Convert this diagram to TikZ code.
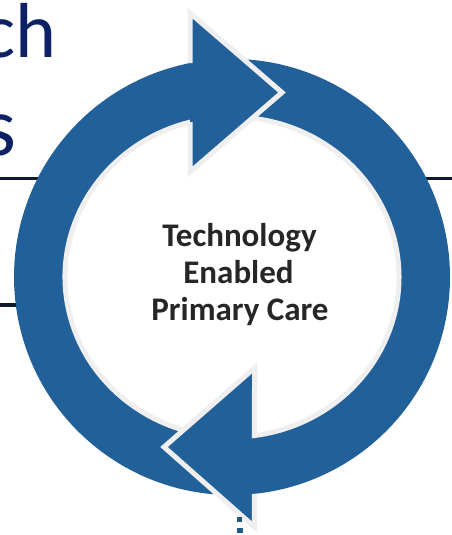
\documentclass[tikz,border=0pt]{standalone}
\usepackage{fontspec}
\setmainfont{Carlito}
\usetikzlibrary{calc}
\definecolor{ringblue}{HTML}{22609A}
\definecolor{rimgray}{HTML}{EFEFEF}
\definecolor{titlenavy}{HTML}{0B2163}
\definecolor{rulecol}{HTML}{0E1A28}
\definecolor{labelgray}{HTML}{262626}
\definecolor{dotteal}{HTML}{1D5A7E}
\begin{document}
\begin{tikzpicture}[x=1pt,y=-1pt,
  rim/.style={draw=rimgray,line width=5pt,line join=miter},
  rulerline/.style={draw=rulecol,line width=3.5pt},
  titletext/.style={text=titlenavy,inner sep=0pt,anchor=base east},
  centrelabel/.style={text=labelgray,inner sep=0pt,anchor=base,
    font=\fontsize{33}{37}\selectfont\bfseries}]
\useasboundingbox[fill=white] (0,0) rectangle (451,535);
\coordinate (C) at (232,277);

% table rules running behind the ring
\coordinate (r1a) at (-2,178.3);
\coordinate (r1b) at (60,178.3);
\coordinate (r2a) at (420,178.3);
\coordinate (r2b) at (453,178.3);
\coordinate (r3a) at (-2,305);
\coordinate (r3b) at (40,305);
\draw[rulerline] (r1a) -- (r1b);
\draw[rulerline] (r2a) -- (r2b);
\draw[rulerline] (r3a) -- (r3b);

% title fragments
\node[titletext,font=\fontsize{78}{94}\selectfont] (ttlA) at (57,58) {ch};
\node[titletext,font=\fontsize{84}{100}\selectfont] (ttlB) at (17,155) {s};

% left half: rises from the bottom to the upper arrowhead
\fill[ringblue] ($(C)+(85.26:218 and 218)$)
  arc[start angle=85.26,end angle=258.89,x radius=218,y radius=218]
  -- (190,13) -- (282,92.5) -- (190,172)
  -- ($(C)+(255.43:167 and 160)$)
  arc[start angle=255.43,end angle=83.81,x radius=167,y radius=160] -- cycle;
\draw[rim] ($(C)+(255.43:167 and 160)$)
  arc[start angle=255.43,end angle=83.81,x radius=167,y radius=160];

% right half: descends from the top to the lower arrowhead
\fill[ringblue] ($(C)+(253.30:167 and 160)$) -- ($(C)+(257.28:218 and 218)$)
  arc[start angle=257.28,end angle=444.08,x radius=218,y radius=218]
  -- (254.5,527) -- (164,447) -- (254.5,368)
  -- ($(C)+(442.26:167 and 160)$)
  arc[start angle=442.26,end angle=253.30,x radius=167,y radius=160] -- cycle;
\draw[rim] ($(C)+(444.08:218 and 218)$) -- (254.5,527) -- (164,447) -- (254.5,368)
  -- ($(C)+(442.26:167 and 160)$)
  arc[start angle=442.26,end angle=253.30,x radius=167,y radius=160];

% upper arrowhead lies over the start of the right half
\fill[ringblue] (190,13) -- (282,92.5) -- (190,172) -- cycle;
\draw[rim] (190,63.1) -- (190,13) -- (282,92.5) -- (190,172) -- (190,122.1);

% small marks below the lower arrowhead
\fill[dotteal] (237,517) rectangle (242,522);
\fill[dotteal] (237,528) rectangle (243,533);

% centre label
\node[centrelabel] (lab1) at (239.5,246.7) {Technology};
\node[centrelabel] (lab2) at (238.5,283.3) {Enabled};
\node[centrelabel] (lab3) at (240,320.7) {Primary Care};
\end{tikzpicture}
\end{document}
